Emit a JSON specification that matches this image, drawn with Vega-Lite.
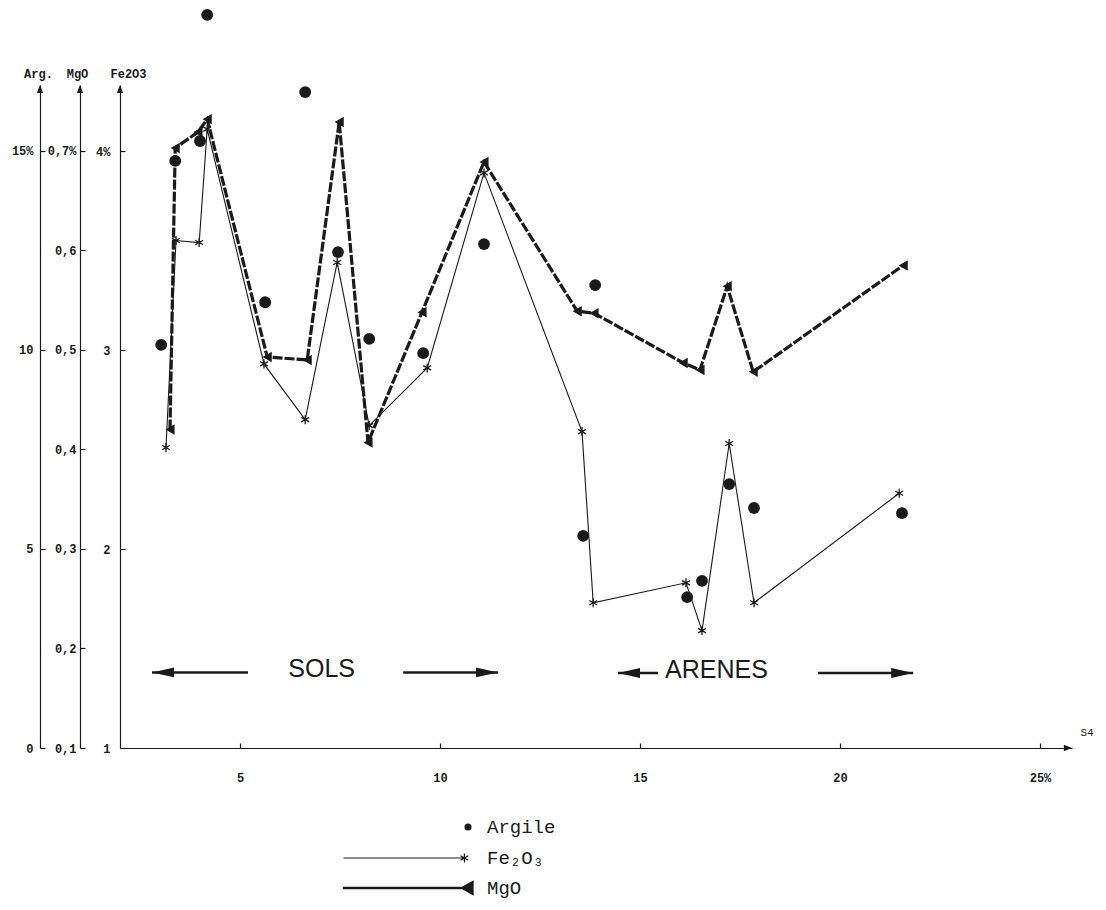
{
  "$schema": "https://vega.github.io/schema/vega-lite/v6.json",
  "width": 952,
  "height": 663,
  "autosize": {"type": "none"},
  "padding": {"left": 120, "top": 85, "right": 34, "bottom": 162},
  "background": "white",
  "config": {
    "view": {"stroke": null},
    "axis": {
      "grid": false,
      "domainColor": "#1a1a1a",
      "tickColor": "#1a1a1a",
      "labelColor": "#1a1a1a",
      "titleColor": "#1a1a1a",
      "labelFont": "Liberation Mono",
      "titleFont": "Liberation Mono",
      "labelFontSize": 12,
      "labelFontWeight": "bold",
      "titleFontSize": 12,
      "titleFontWeight": "bold",
      "domainWidth": 1.2,
      "tickWidth": 1.2
    },
    "legend": {"labelFont": "Liberation Mono", "labelFontSize": 19, "labelColor": "#1a1a1a"}
  },
  "datasets": {
    "argile": [
      {"x": 3.03, "argile": 10.13}, {"x": 3.38, "argile": 14.75}, {"x": 4.0, "argile": 15.25},
      {"x": 4.18, "argile": 18.42}, {"x": 5.63, "argile": 11.2}, {"x": 6.63, "argile": 16.48},
      {"x": 7.45, "argile": 12.46}, {"x": 8.23, "argile": 10.28}, {"x": 9.58, "argile": 9.92},
      {"x": 11.1, "argile": 12.66}, {"x": 13.58, "argile": 5.33}, {"x": 13.88, "argile": 11.63},
      {"x": 16.18, "argile": 3.79}, {"x": 16.55, "argile": 4.2}, {"x": 17.23, "argile": 6.63},
      {"x": 17.85, "argile": 6.03}, {"x": 21.55, "argile": 5.9}
    ],
    "fe": [
      {"x": 3.15, "fe2o3": 2.51}, {"x": 3.4, "fe2o3": 3.55}, {"x": 3.98, "fe2o3": 3.54},
      {"x": 4.18, "fe2o3": 4.11}, {"x": 5.6, "fe2o3": 2.93}, {"x": 6.63, "fe2o3": 2.65},
      {"x": 7.43, "fe2o3": 3.44}, {"x": 8.23, "fe2o3": 2.62}, {"x": 9.68, "fe2o3": 2.91},
      {"x": 11.1, "fe2o3": 3.89}, {"x": 13.55, "fe2o3": 2.59}, {"x": 13.83, "fe2o3": 1.73},
      {"x": 16.15, "fe2o3": 1.83}, {"x": 16.55, "fe2o3": 1.59}, {"x": 17.23, "fe2o3": 2.53},
      {"x": 17.85, "fe2o3": 1.73}, {"x": 21.48, "fe2o3": 2.28}
    ],
    "mgo": [
      {"x": 3.25, "mgo": 0.42}, {"x": 3.38, "mgo": 0.703}, {"x": 3.95, "mgo": 0.719},
      {"x": 4.18, "mgo": 0.732}, {"x": 5.68, "mgo": 0.493}, {"x": 6.68, "mgo": 0.49},
      {"x": 7.48, "mgo": 0.729}, {"x": 8.2, "mgo": 0.407}, {"x": 9.55, "mgo": 0.538},
      {"x": 11.1, "mgo": 0.689}, {"x": 13.43, "mgo": 0.539}, {"x": 13.85, "mgo": 0.537},
      {"x": 16.08, "mgo": 0.487}, {"x": 16.5, "mgo": 0.48}, {"x": 17.18, "mgo": 0.564},
      {"x": 17.83, "mgo": 0.478}, {"x": 21.58, "mgo": 0.585}
    ],
    "notes": [
      {"x": 7.04, "y": 1.395, "label": "SOLS"},
      {"x": 16.91, "y": 1.39, "label": "ARENES"}
    ],
    "arrows": [
      {"x": 2.8, "x2": 5.2, "y": 1.38, "dir": "left"},
      {"x": 11.45, "x2": 9.08, "y": 1.38, "dir": "right"},
      {"x": 14.45, "x2": 15.45, "y": 1.377, "dir": "left"},
      {"x": 21.83, "x2": 19.45, "y": 1.377, "dir": "right"}
    ],
    "axisends": [
      {"x": 0, "y": 4.3317, "dir": "up"},
      {"x": 1, "y": 4.3317, "dir": "up"},
      {"x": 2, "y": 4.3317, "dir": "up"},
      {"x": 25.8, "y": 1, "dir": "right"}
    ]
  },
  "encoding": {
    "x": {
      "field": "x",
      "type": "quantitative",
      "scale": {"domain": [2, 25.8], "nice": false, "zero": false},
      "axis": {
        "title": "S4",
        "values": [5, 10, 15, 20, 25],
        "tickSize": -5,
        "labelPadding": 29,
        "labelFlush": false,
        "labelExpr": "datum.value == 25 ? '25%' : datum.label",
        "titleX": 960,
        "titleY": -16,
        "titleAlign": "left",
        "titleBaseline": "middle",
        "titleFontSize": 11,
        "titleFontWeight": "normal"
      }
    }
  },
  "layer": [
    {
      "layer": [
        {
          "data": {"name": "fe"},
          "mark": {"type": "line", "color": "#1a1a1a", "strokeWidth": 1.1},
          "encoding": {
            "y": {"field": "fe2o3", "type": "quantitative", "scale": {"domain": [1, 4.3317], "nice": false, "zero": false},
              "axis": {"title": "Fe2O3", "orient": "left", "offset": 0, "values": [1, 2, 3, 4], "tickSize": -5, "labelPadding": 15,
                "labelExpr": "datum.value == 4 ? '4%' : datum.label", "titleAngle": 0, "titleX": 8, "titleY": -12,
                "titleAlign": "center", "titleBaseline": "middle"}}
          }
        },
        {
          "data": {"name": "fe"},
          "mark": {"type": "point", "shape": "M0,-1V1M-0.87,-0.5L0.87,0.5M-0.87,0.5L0.87,-0.5", "filled": false, "size": 81, "strokeWidth": 1.3, "opacity": 1},
          "encoding": {
            "y": {"field": "fe2o3", "type": "quantitative", "scale": {"domain": [1, 4.3317], "nice": false, "zero": false},
              "axis": {"title": "Fe2O3", "orient": "left", "offset": 0, "values": [1, 2, 3, 4], "tickSize": -5, "labelPadding": 15,
                "labelExpr": "datum.value == 4 ? '4%' : datum.label", "titleAngle": 0, "titleX": 8, "titleY": -12,
                "titleAlign": "center", "titleBaseline": "middle"}},
            "color": {"datum": "Fe₂O₃", "scale": {"range": ["#1a1a1a"]},
              "legend": {"orient": "none", "legendX": 222.5, "legendY": 763, "title": null, "padding": 0,
                "symbolType": "M-1,0H0.86M0.86,-0.07V0.07M0.8,-0.035L0.92,0.035M0.8,0.035L0.92,-0.035",
                "symbolSize": 16900, "symbolStrokeWidth": 1.2, "symbolStrokeColor": "#1a1a1a", "symbolFillColor": "transparent",
                "labelOffset": 12.5, "clipHeight": 20}}
          }
        },
        {
          "data": {"name": "notes"},
          "mark": {"type": "text", "font": "Liberation Sans", "fontSize": 25, "color": "#1a1a1a", "align": "center", "baseline": "middle"},
          "encoding": {
            "y": {"field": "y", "type": "quantitative", "scale": {"domain": [1, 4.3317], "nice": false, "zero": false},
              "axis": {"title": "Fe2O3", "orient": "left", "offset": 0, "values": [1, 2, 3, 4], "tickSize": -5, "labelPadding": 15,
                "labelExpr": "datum.value == 4 ? '4%' : datum.label", "titleAngle": 0, "titleX": 8, "titleY": -12,
                "titleAlign": "center", "titleBaseline": "middle"}},
            "text": {"field": "label"}
          }
        },
        {
          "data": {"name": "arrows"},
          "mark": {"type": "rule", "color": "#1a1a1a", "strokeWidth": 2.5},
          "encoding": {
            "y": {"field": "y", "type": "quantitative", "scale": {"domain": [1, 4.3317], "nice": false, "zero": false},
              "axis": {"title": "Fe2O3", "orient": "left", "offset": 0, "values": [1, 2, 3, 4], "tickSize": -5, "labelPadding": 15,
                "labelExpr": "datum.value == 4 ? '4%' : datum.label", "titleAngle": 0, "titleX": 8, "titleY": -12,
                "titleAlign": "center", "titleBaseline": "middle"}},
            "x2": {"field": "x2"}
          }
        },
        {
          "data": {"name": "arrows"},
          "transform": [{"filter": "datum.dir == 'left'"}],
          "mark": {"type": "point", "shape": "M0,0L2,-0.45L2,0.45Z", "filled": true, "size": 484, "color": "#1a1a1a", "opacity": 1},
          "encoding": {
            "y": {"field": "y", "type": "quantitative", "scale": {"domain": [1, 4.3317], "nice": false, "zero": false},
              "axis": {"title": "Fe2O3", "orient": "left", "offset": 0, "values": [1, 2, 3, 4], "tickSize": -5, "labelPadding": 15,
                "labelExpr": "datum.value == 4 ? '4%' : datum.label", "titleAngle": 0, "titleX": 8, "titleY": -12,
                "titleAlign": "center", "titleBaseline": "middle"}}
          }
        },
        {
          "data": {"name": "arrows"},
          "transform": [{"filter": "datum.dir == 'right'"}],
          "mark": {"type": "point", "shape": "M0,0L-2,-0.45L-2,0.45Z", "filled": true, "size": 484, "color": "#1a1a1a", "opacity": 1},
          "encoding": {
            "y": {"field": "y", "type": "quantitative", "scale": {"domain": [1, 4.3317], "nice": false, "zero": false},
              "axis": {"title": "Fe2O3", "orient": "left", "offset": 0, "values": [1, 2, 3, 4], "tickSize": -5, "labelPadding": 15,
                "labelExpr": "datum.value == 4 ? '4%' : datum.label", "titleAngle": 0, "titleX": 8, "titleY": -12,
                "titleAlign": "center", "titleBaseline": "middle"}}
          }
        },
        {
          "data": {"name": "axisends"},
          "transform": [{"filter": "datum.dir == 'up'"}],
          "mark": {"type": "point", "shape": "M0,0L-0.7,1.8L0.7,1.8Z", "filled": true, "size": 81, "color": "#1a1a1a", "opacity": 1},
          "encoding": {
            "y": {"field": "y", "type": "quantitative", "scale": {"domain": [1, 4.3317], "nice": false, "zero": false},
              "axis": {"title": "Fe2O3", "orient": "left", "offset": 0, "values": [1, 2, 3, 4], "tickSize": -5, "labelPadding": 15,
                "labelExpr": "datum.value == 4 ? '4%' : datum.label", "titleAngle": 0, "titleX": 8, "titleY": -12,
                "titleAlign": "center", "titleBaseline": "middle"}}
          }
        },
        {
          "data": {"name": "axisends"},
          "transform": [{"filter": "datum.dir == 'right'"}],
          "mark": {"type": "point", "shape": "M0,0L-1.8,-0.7L-1.8,0.7Z", "filled": true, "size": 81, "color": "#1a1a1a", "opacity": 1},
          "encoding": {
            "y": {"field": "y", "type": "quantitative", "scale": {"domain": [1, 4.3317], "nice": false, "zero": false},
              "axis": {"title": "Fe2O3", "orient": "left", "offset": 0, "values": [1, 2, 3, 4], "tickSize": -5, "labelPadding": 15,
                "labelExpr": "datum.value == 4 ? '4%' : datum.label", "titleAngle": 0, "titleX": 8, "titleY": -12,
                "titleAlign": "center", "titleBaseline": "middle"}}
          }
        }
      ]
    },
    {
      "layer": [
        {
          "data": {"name": "mgo"},
          "mark": {"type": "line", "color": "#1a1a1a", "strokeWidth": 3.2, "strokeDash": [10, 2]},
          "encoding": {
            "y": {"field": "mgo", "type": "quantitative", "scale": {"domain": [0.1, 0.7663], "nice": false, "zero": false},
              "axis": {"title": "MgO", "orient": "left", "offset": 40, "values": [0.1, 0.2, 0.3, 0.4, 0.5, 0.6, 0.7], "tickSize": -5, "labelPadding": 9,
                "labelExpr": "replace(format(datum.value, '.1f'), '.', ',') + (datum.value > 0.65 ? '%' : '')",
                "titleAngle": 0, "titleX": -3, "titleY": -12, "titleAlign": "center", "titleBaseline": "middle"}}
          }
        },
        {
          "data": {"name": "mgo"},
          "mark": {"type": "point", "shape": "triangle-left", "filled": true, "size": 110, "opacity": 1},
          "encoding": {
            "y": {"field": "mgo", "type": "quantitative", "scale": {"domain": [0.1, 0.7663], "nice": false, "zero": false},
              "axis": {"title": "MgO", "orient": "left", "offset": 40, "values": [0.1, 0.2, 0.3, 0.4, 0.5, 0.6, 0.7], "tickSize": -5, "labelPadding": 9,
                "labelExpr": "replace(format(datum.value, '.1f'), '.', ',') + (datum.value > 0.65 ? '%' : '')",
                "titleAngle": 0, "titleX": -3, "titleY": -12, "titleAlign": "center", "titleBaseline": "middle"}},
            "color": {"datum": "MgO", "scale": {"range": ["#1a1a1a"]},
              "legend": {"orient": "none", "legendX": 221.5, "legendY": 793, "title": null, "padding": 0,
                "symbolType": "M-1,0H0.86M0.84,0L0.99,-0.085L0.99,0.085Z",
                "symbolSize": 16900, "symbolStrokeWidth": 2.6, "symbolStrokeColor": "#1a1a1a", "symbolFillColor": "#1a1a1a",
                "labelOffset": 12.5, "clipHeight": 20}}
          }
        }
      ]
    },
    {
      "layer": [
        {
          "data": {"name": "argile"},
          "mark": {"type": "point", "shape": "circle", "filled": true, "size": 140, "opacity": 1},
          "encoding": {
            "y": {"field": "argile", "type": "quantitative", "scale": {"domain": [0, 16.658], "nice": false, "zero": false},
              "axis": {"title": "Arg.", "orient": "left", "offset": 80, "values": [0, 5, 10, 15], "tickSize": -5, "labelPadding": 12,
                "labelExpr": "datum.value == 15 ? '15%' : datum.label",
                "titleAngle": 0, "titleX": -2, "titleY": -12, "titleAlign": "center", "titleBaseline": "middle"}},
            "color": {"datum": "Argile", "scale": {"range": ["#1a1a1a"]},
              "legend": {"orient": "none", "legendX": 338.5, "legendY": 732, "title": null, "padding": 0,
                "symbolType": "circle", "symbolSize": 50, "symbolStrokeWidth": 0,
                "labelOffset": 9.5, "clipHeight": 20}}
          }
        }
      ]
    }
  ],
  "resolve": {"scale": {"y": "independent", "color": "independent"}, "legend": {"color": "independent"}}
}
